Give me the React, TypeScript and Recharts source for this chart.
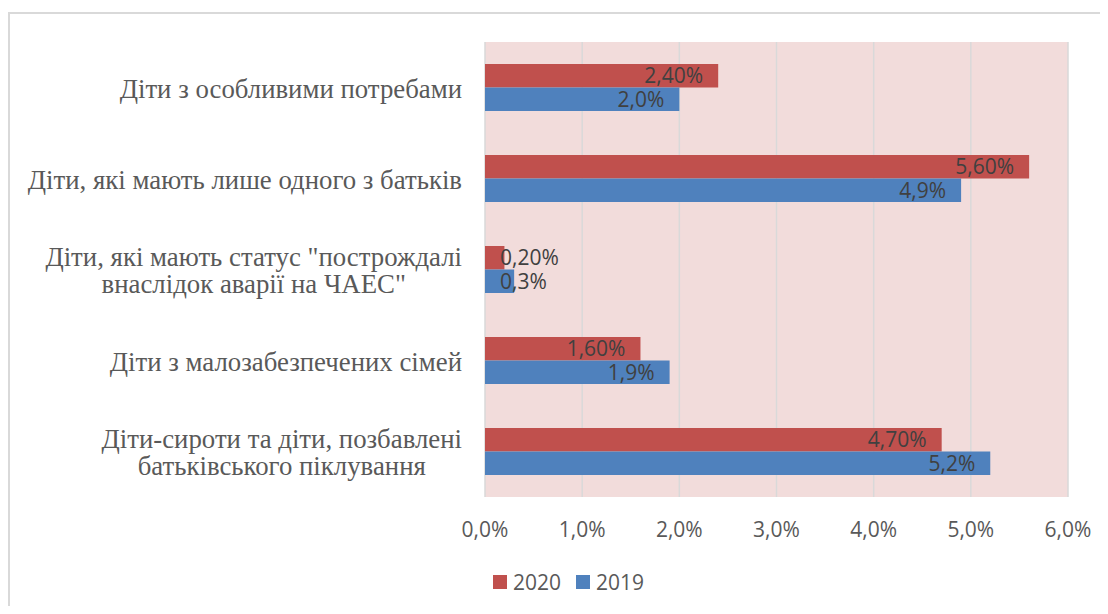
import React from 'react';
import { BarChart, Bar, XAxis, YAxis, CartesianGrid, LabelList, Legend } from 'recharts';

const categories = [
  'Діти з особливими потребами',
  'Діти, які мають лише одного з батьків',
  'Діти, які мають статус "построждалі\nвнаслідок аварії на ЧАЕС"',
  'Діти з малозабезпечених сімей',
  'Діти-сироти та діти, позбавлені\nбатьківського піклування',
];
const values2020 = [2.4, 5.6, 0.2, 1.6, 4.7];
const values2019 = [2.0, 4.9, 0.3, 1.9, 5.2];
const xTicks = [0, 1, 2, 3, 4, 5, 6];
const seriesNames = ['2020', '2019'];
const seriesColors = ['#c0504d', '#4f81bd'];

const data = categories.map((c, i) => ({ category: c, v2020: values2020[i], v2019: values2019[i] }));

const SANS = "'Open Sans', sans-serif";
const SERIF = "'Liberation Serif', 'DejaVu Serif', serif";
const GRAY = '#595959';
const CAT_SIZE = 26.8;

let ctx: CanvasRenderingContext2D | null = null;
function measure(text: string, font: string): number {
  if (!ctx) {
    const c = document.createElement('canvas');
    ctx = c.getContext('2d');
  }
  if (!ctx) return text.length * 10;
  ctx.font = font;
  return ctx.measureText(text).width;
}

const fmt = (v: number, d: number) => v.toFixed(d).replace('.', ',') + '%';

const YTick = (props: any) => {
  const { x, y, payload } = props;
  const lines: string[] = String(payload.value).split('\n');
  const font = `${CAT_SIZE}px ${SERIF}`;
  const widths = lines.map((l) => measure(l, font));
  const maxW = Math.max(...widths);
  const right = x - 23;
  const lh = 27.5;
  const n = lines.length;
  return (
    <g>
      {lines.map((l, i) => (
        <text
          key={i}
          x={n > 1 ? right - maxW / 2 : right}
          y={y + (i - (n - 1) / 2) * lh + 10}
          textAnchor={n > 1 ? 'middle' : 'end'}
          style={{ fontFamily: SERIF, fontSize: CAT_SIZE }}
          fill={GRAY}
        >
          {l}
        </text>
      ))}
    </g>
  );
};

const XTick = (props: any) => {
  const { x, y, payload } = props;
  return (
    <text x={x} y={y + 40} textAnchor="middle" style={{ fontFamily: SANS, fontSize: 21 }} fill={GRAY}>
      {fmt(payload.value, 1)}
    </text>
  );
};

const makeLabel = (digits: number) => (props: any) => {
  const { x, y, width, height, value } = props;
  const text = fmt(Number(value), digits);
  const tw = measure(text, `21px ${SANS}`);
  const fits = width - 15 >= tw + 4;
  return (
    <text
      x={fits ? x + width - 15 : x + 15}
      y={y + height / 2 + 7.5}
      textAnchor={fits ? 'end' : 'start'}
      style={{ fontFamily: SANS, fontSize: 21 }}
      fill="#404040"
    >
      {text}
    </text>
  );
};

const LegendContent = () => (
  <div style={{ display: 'flex', alignItems: 'center', height: 28, fontFamily: SANS, fontSize: 21, color: GRAY, lineHeight: '28px' }}>
    {seriesNames.map((name, i) => (
      <div key={i} style={{ display: 'flex', alignItems: 'center', marginRight: 15 }}>
        <div style={{ width: 14, height: 14, background: seriesColors[i], marginRight: 6 }} />
        <span>{name}</span>
      </div>
    ))}
  </div>
);

export default function App() {
  return (
    <div style={{ position: 'relative', width: 1100, height: 598, overflow: 'hidden', background: '#fff' }}>
      <style>{`html,body{overflow:hidden}`}</style>
      <div
        style={{
          position: 'absolute',
          left: 0,
          top: 4,
          width: 1200,
          height: 800,
          border: '2px solid #d9d9d9',
          boxSizing: 'border-box',
        }}
      />
      <div style={{ position: 'absolute', left: 0, top: 0 }}>
        <BarChart
          width={1100}
          height={598}
          data={data}
          layout="vertical"
          margin={{ top: 34, right: 40, bottom: 69, left: 0 }}
          barGap={0}
          barSize={23.5}
        >
          <CartesianGrid horizontal={false} stroke="#d9d9d9" strokeWidth={1.5} fill="#f2dcdb" fillOpacity={1} />
          <XAxis
            type="number"
            domain={[0, 6]}
            ticks={xTicks}
            axisLine={false}
            tickLine={false}
            tickSize={0}
            tickMargin={0}
            height={40}
            tick={<XTick />}
            interval={0}
          />
          <YAxis
            type="category"
            dataKey="category"
            width={477}
            axisLine={false}
            tickLine={false}
            tickSize={0}
            tickMargin={0}
            tick={<YTick />}
            interval={0}
          />
          <Legend
            layout="horizontal"
            verticalAlign="middle"
            align="center"
            wrapperStyle={{ left: 485, top: 560, width: 'auto' }}
            content={<LegendContent />}
          />
          <Bar dataKey="v2020" name={seriesNames[0]} fill={seriesColors[0]} isAnimationActive={false}>
            <LabelList dataKey="v2020" content={makeLabel(2)} />
          </Bar>
          <Bar dataKey="v2019" name={seriesNames[1]} fill={seriesColors[1]} isAnimationActive={false}>
            <LabelList dataKey="v2019" content={makeLabel(1)} />
          </Bar>
        </BarChart>
      </div>
    </div>
  );
}
